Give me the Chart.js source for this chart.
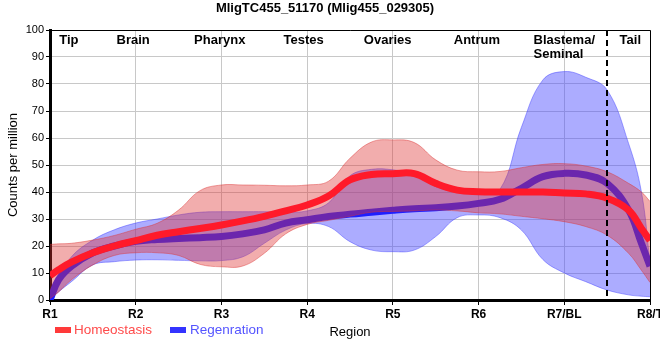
<!DOCTYPE html>
<html>
<head>
<meta charset="utf-8">
<script src="https://cdn.jsdelivr.net/npm/chart.js@4.4.1/dist/chart.umd.min.js"></script>
<style>
  html, body { margin: 0; padding: 0; background: #fff; }
</style>
</head>
<body>
<canvas id="regionChart" width="660" height="360"></canvas>
<script>
const FONT = '"Liberation Sans", Arial, Helvetica, sans-serif';

// x axis categories (R1..R8/T at 1..8) and the tissue names above the plot
const regionLabels = ['R1', 'R2', 'R3', 'R4', 'R5', 'R6', 'R7/BL', 'R8/T'];
const tissueNames = ['Tip', 'Brain', 'Pharynx', 'Testes', 'Ovaries', 'Antrum', 'Blastema/\nSeminal', 'Tail'];
const tissueAt = [1.22, 1.97, 2.98, 3.96, 4.94, 5.98, 7.0, 7.77];
const tailBoundary = 7.5;

// sample positions along the body axis
const xPos = [1, 1.1, 1.25, 1.5, 1.75, 2, 2.25, 2.5, 2.75, 3, 3.25, 3.5, 3.75, 4, 4.25, 4.5, 4.75,
              5, 5.25, 5.5, 5.75, 6, 6.25, 6.5, 6.75, 7, 7.25, 7.5, 7.75, 7.9, 8];

// Homeostasis (counts per million): mean and band
const homMean = [9, 11.2, 14, 17.5, 20, 22, 24, 25.3, 26.5, 27.8, 29.3, 31, 33, 35.2, 38.5, 44.5, 46.5,
                 46.8, 46.8, 43.2, 40.7, 40.1, 40, 40, 40, 39.6, 39.3, 37.7, 33.3, 26.5, 22];
const homHigh = [20.6, 20.8, 21, 22.2, 23.9, 26.2, 28.4, 33.3, 40.5, 42.6, 42.6, 42.5, 42.3, 42.6, 44, 52.5, 58.5,
                 59.3, 58.3, 51.9, 48.1, 47.5, 47.6, 49, 50.2, 50.5, 49.6, 47.5, 43.2, 40, 36.5];
const homLow = [0.5, 3, 7.5, 13, 16.5, 17.5, 17.5, 16.5, 13.2, 12.3, 12.6, 17.3, 24.5, 28, 29.5, 31, 32.5,
                32.8, 33, 33.3, 33, 32.3, 31.9, 31, 30.1, 29, 27.2, 24, 17.3, 11, 6.5];

// Regeneration: mean and band
const regMean = [0, 7.5, 12.5, 17.5, 20, 21.7, 22.4, 22.8, 23.1, 23.5, 24.5, 26, 28.5, 29.7, 30.9, 31.8, 32.5,
                 33.2, 33.8, 34.2, 34.8, 35.8, 37.3, 41.4, 45.7, 46.9, 46.3, 43.2, 33.3, 21, 12.5];
const regHigh = [0, 8, 16, 22.2, 26, 28.5, 30, 31.5, 32.5, 32.7, 32.7, 32.7, 32.5, 33, 36, 46, 48.4,
                 48.2, 46.5, 42, 40, 39.5, 41, 64, 81.5, 84.6, 82.5, 77.8, 58, 40, 14];
const regLow = [0, 3, 6.8, 13, 14.2, 14.8, 14.9, 14.7, 14.5, 14.6, 16, 21, 25.9, 28.3, 27.2, 21.6, 18.5,
                17.9, 18.5, 23.5, 30.5, 31.5, 30.5, 25.9, 15, 10, 6.8, 3.7, 1.9, 1.4, 1.2];

const pts = arr => arr.map((y, i) => ({ x: xPos[i], y: y }));

function curve(data, opts) {
    return Object.assign({
        data: pts(data),
        pointRadius: 0,
        pointHoverRadius: 0,
        tension: 0.4,
        fill: false
    }, opts);
}

const overlay = {
    id: 'overlay',
    afterDatasetsDraw(chart) {
        const { ctx, chartArea: a, scales: { x } } = chart;
        ctx.save();
        // thin frame on top and right
        ctx.strokeStyle = '#000';
        ctx.lineWidth = 1;
        ctx.beginPath();
        ctx.moveTo(a.left, a.top + 0.5);
        ctx.lineTo(a.right + 0.5, a.top + 0.5);
        ctx.lineTo(a.right + 0.5, a.bottom);
        ctx.stroke();
        // dashed line at the tail boundary
        const xd = Math.round(x.getPixelForValue(tailBoundary));
        ctx.lineWidth = 2;
        ctx.setLineDash([6, 4]);
        ctx.beginPath();
        ctx.moveTo(xd, a.top);
        ctx.lineTo(xd, a.bottom);
        ctx.stroke();
        ctx.setLineDash([]);
        // tissue names
        ctx.fillStyle = '#000';
        ctx.font = 'bold 13px ' + FONT;
        ctx.textBaseline = 'alphabetic';
        ctx.textAlign = 'left';
        tissueNames.forEach((name, i) => {
            const lines = name.split('\n');
            const w = ctx.measureText(lines[0]).width;
            const left = x.getPixelForValue(tissueAt[i]) - w / 2;
            lines.forEach((ln, j) => ctx.fillText(ln, left, a.top + 14 + j * 14));
        });
        ctx.restore();
    },
    afterDraw(chart) {
        const { ctx, chartArea: a } = chart;
        ctx.save();
        ctx.font = '13.5px ' + FONT;
        ctx.textBaseline = 'middle';
        ctx.textAlign = 'left';
        const y = 330;
        ctx.fillStyle = '#ff3a3a';
        ctx.fillRect(55, y - 3, 16, 6);
        ctx.fillStyle = '#ff4a4a';
        ctx.fillText('Homeostasis', 74, y);
        ctx.fillStyle = '#3434ff';
        ctx.fillRect(170, y - 3, 16, 6);
        ctx.fillStyle = '#5454ff';
        ctx.fillText('Regenration', 190, y);
        ctx.fillStyle = '#000';
        ctx.textAlign = 'center';
        ctx.font = '13px ' + FONT;
        ctx.fillText('Region', (a.left + a.right) / 2, y + 2);
        ctx.restore();
    }
};

const ctx = document.getElementById('regionChart').getContext('2d');
const regionChart = new Chart(ctx, {
    type: 'line',
    data: {
        datasets: [
            curve(regLow, { label: 'regLow', borderColor: 'rgba(60,60,255,0.45)', borderWidth: 1, order: 6 }),
            curve(regHigh, { label: 'regHigh', borderColor: 'rgba(60,60,255,0.45)', borderWidth: 1,
                             backgroundColor: 'rgba(70,70,255,0.45)', fill: 0, order: 5 }),
            curve(regMean, { label: 'Regenration', borderColor: '#1e1eff', borderWidth: 7, order: 4 }),
            curve(homLow, { label: 'homLow', borderColor: 'rgba(220,50,50,0.45)', borderWidth: 1, order: 3 }),
            curve(homHigh, { label: 'homHigh', borderColor: 'rgba(220,50,50,0.45)', borderWidth: 1,
                             backgroundColor: 'rgba(222,50,50,0.4)', fill: 3, order: 2 }),
            curve(homMean, { label: 'Homeostasis', borderColor: '#ff1a2a', borderWidth: 7, order: 1 })
        ]
    },
    options: {
        responsive: false,
        animation: false,
        layout: { padding: { left: 0, right: 10, top: 0, bottom: 35 } },
        plugins: {
            legend: { display: false },
            tooltip: { enabled: false },
            title: {
                display: true,
                text: 'MligTC455_51170 (Mlig455_029305)',
                color: '#000',
                font: { family: FONT, size: 13, weight: 'bold' },
                padding: { top: 1, bottom: 13.4 }
            }
        },
        scales: {
            x: {
                type: 'linear',
                min: 1,
                max: 8,
                ticks: {
                    stepSize: 1,
                    autoSkip: false,
                    maxRotation: 0,
                    color: '#000',
                    padding: 2,
                    font: { family: FONT, size: 12, weight: 'bold' },
                    callback: v => regionLabels[Math.round(v) - 1]
                },
                grid: { color: '#c8c8c8', tickColor: '#000', tickLength: 5 },
                border: { color: '#000', width: 3 },
                afterFit: s => { s.height = 25; s.paddingRight = 0; s.paddingLeft = 0; }
            },
            y: {
                min: 0,
                max: 100,
                ticks: {
                    stepSize: 10,
                    color: '#000',
                    padding: 2,
                    font: { family: FONT, size: 11 }
                },
                grid: { color: '#c8c8c8', tickColor: '#000', tickLength: 4 },
                border: { color: '#000', width: 3 },
                title: {
                    display: true,
                    text: 'Counts per million',
                    color: '#000',
                    font: { family: FONT, size: 13 },
                    padding: { top: 6, bottom: 4 }
                },
                afterFit: s => { s.width = 50; }
            }
        }
    },
    plugins: [overlay]
});
</script>
</body>
</html>
